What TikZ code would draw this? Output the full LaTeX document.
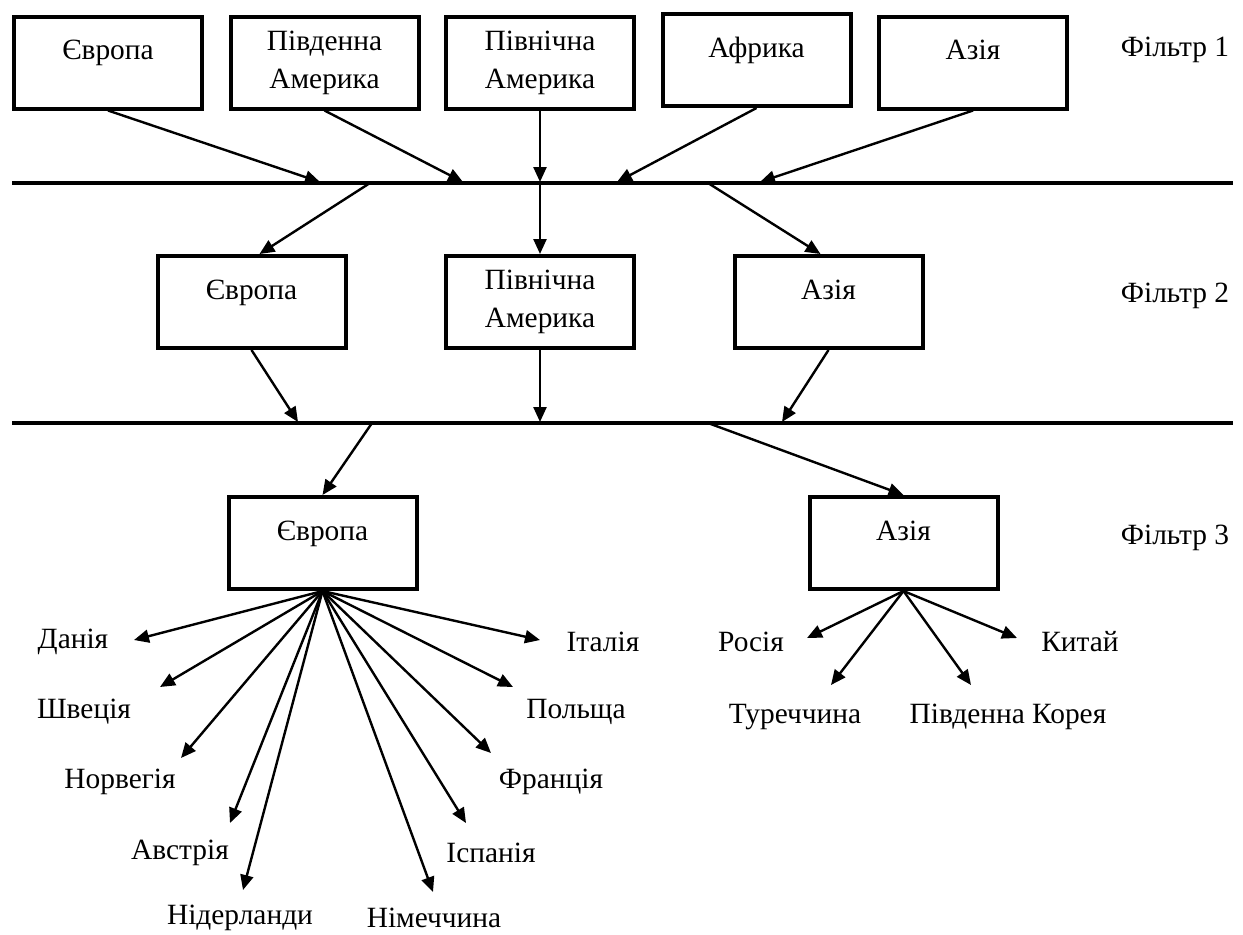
\documentclass[tikz,border=0pt]{standalone}
\usepackage{fontspec}
\setmainfont{Liberation Serif}
\usetikzlibrary{arrows.meta}

\begin{document}
\begin{tikzpicture}[
    x=0.5pt, y=-0.5pt,
    >={Triangle[length=7.5pt,width=6.5pt]},
    font=\fontsize{14.7}{19}\selectfont,
    region/.style={draw, line width=2pt, minimum width=94pt, minimum height=46pt,
                   align=center, inner sep=2pt},
    oneline/.style={text height=9.8pt, text depth=12.5pt},
    feed/.style={->, line width=1.2pt},
    bar/.style={line width=2pt},
  ]
  \useasboundingbox (0,0) rectangle (1243,934);

  % Filter 1
  \node[region, oneline] (eu1) at (108,62.5) {Європа};
  \node[region] (sa1) at (324.5,62.5) {Південна\\Америка};
  \node[region] (na1) at (540,62.5) {Північна\\Америка};
  \node[region, oneline] (af1) at (756.5,60) {Африка};
  \node[region, oneline] (as1) at (973,62.5) {Азія};
  \node (f1) at (1175,50) {Фільтр 1};

  \coordinate (bar1w) at (12,183);
  \coordinate (bar1e) at (1233,183);
  \draw[bar] (bar1w) -- (bar1e);
  \coordinate (b1eu) at (320,182);
  \coordinate (b1sa) at (463,182);
  \coordinate (b1na) at (540,182);
  \coordinate (b1af) at (617,182);
  \coordinate (b1as) at (760,182);
  \coordinate (o1eu) at (370,183);
  \coordinate (o1as) at (708,183);

  \draw[feed] (eu1.south) -- (b1eu);
  \draw[feed] (sa1.south) -- (b1sa);
  \draw[feed] (na1.south) -- (b1na);
  \draw[feed] (af1.south) -- (b1af);
  \draw[feed] (as1.south) -- (b1as);

  % Filter 2
  \node[region, oneline] (eu2) at (251.5,302) {Європа};
  \node[region] (na2) at (540,302) {Північна\\Америка};
  \node[region, oneline] (as2) at (828.5,302) {Азія};
  \node (f2) at (1175,296) {Фільтр 2};

  \draw[feed] (o1eu) -- ([xshift=4pt]eu2.north);
  \draw[feed] (b1na) -- (na2.north);
  \draw[feed] (o1as) -- ([xshift=-4pt]as2.north);

  \coordinate (bar2w) at (12,423);
  \coordinate (bar2e) at (1233,423);
  \draw[bar] (bar2w) -- (bar2e);
  \coordinate (b2eu) at (298,422);
  \coordinate (b2na) at (540,422);
  \coordinate (b2as) at (782,422);
  \coordinate (o2eu) at (372,423);
  \coordinate (o2as) at (708,423);

  \draw[feed] (eu2.south) -- (b2eu);
  \draw[feed] (na2.south) -- (b2na);
  \draw[feed] (as2.south) -- (b2as);

  % Filter 3
  \node[region, oneline] (eu3) at (322.5,543) {Європа};
  \node[region, oneline] (as3) at (903.5,543) {Азія};
  \node (f3) at (1175,538) {Фільтр 3};

  \draw[feed] (o2eu) -- (eu3.north);
  \draw[feed] (o2as) -- (as3.north);

  % countries of Europe
  \node (dk) at (73,642) {Данія};
  \node (se) at (84,712) {Швеція};
  \node (no) at (120,782) {Норвегія};
  \node (at) at (180,853) {Австрія};
  \node (nl) at (240,918) {Нідерланди};
  \node (de) at (434,918) {Німеччина};
  \node (es) at (491,853) {Іспанія};
  \node (fr) at (551,782) {Франція};
  \node (pl) at (576,712) {Польща};
  \node (it) at (603,642) {Італія};
  \coordinate (dk-tip) at (134,640);
  \coordinate (se-tip) at (160,687);
  \coordinate (no-tip) at (181,758);
  \coordinate (at-tip) at (230,823);
  \coordinate (nl-tip) at (243,890);
  \coordinate (de-tip) at (433,892);
  \coordinate (es-tip) at (466,823);
  \coordinate (fr-tip) at (491,753);
  \coordinate (pl-tip) at (513,687);
  \coordinate (it-tip) at (540,640);
  \draw[feed] (eu3.south) -- (dk-tip);
  \draw[feed] (eu3.south) -- (se-tip);
  \draw[feed] (eu3.south) -- (no-tip);
  \draw[feed] (eu3.south) -- (at-tip);
  \draw[feed] (eu3.south) -- (nl-tip);
  \draw[feed] (eu3.south) -- (de-tip);
  \draw[feed] (eu3.south) -- (es-tip);
  \draw[feed] (eu3.south) -- (fr-tip);
  \draw[feed] (eu3.south) -- (pl-tip);
  \draw[feed] (eu3.south) -- (it-tip);

  % countries of Asia
  \node (ru) at (751,642) {Росія};
  \node (tr) at (795,717) {Туреччина};
  \node (kr) at (1008,717) {Південна Корея};
  \node (cn) at (1080,642) {Китай};
  \coordinate (ru-tip) at (807,638);
  \coordinate (tr-tip) at (831,685);
  \coordinate (kr-tip) at (971,685);
  \coordinate (cn-tip) at (1017,638);
  \draw[feed] (as3.south) -- (ru-tip);
  \draw[feed] (as3.south) -- (tr-tip);
  \draw[feed] (as3.south) -- (kr-tip);
  \draw[feed] (as3.south) -- (cn-tip);
\end{tikzpicture}
\end{document}
